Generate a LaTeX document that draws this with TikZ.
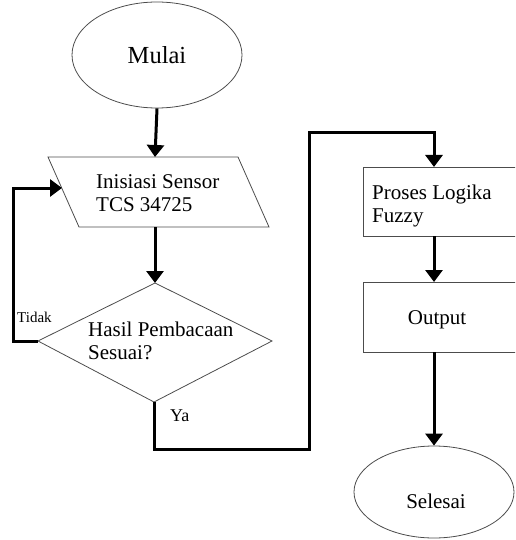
\documentclass[tikz,border=0pt]{standalone}
\usepackage{fontspec}
\setmainfont{Liberation Serif}
\usetikzlibrary{arrows.meta,shapes.geometric}
\begin{document}
\begin{tikzpicture}[x=1pt,y=-1pt,
  shapeline/.style={draw=black!70, line width=0.8pt},
  flow/.style={line width=3pt, -{Triangle[width=17pt,length=12pt]}},
  txt/.style={inner sep=0pt, anchor=base west, align=left, font=\fontsize{21}{23}\selectfont},
]
\useasboundingbox (0,0) rectangle (515,540);
\clip (0,0) rectangle (515,540);
% shapes
\node[ellipse, shapeline, minimum width=170pt, minimum height=106pt, inner sep=0pt] (mulai) at (157,55) {};
\coordinate (pTL) at (48,157);
\coordinate (pTR) at (238,157);
\coordinate (pBR) at (269,227);
\coordinate (pBL) at (79,227);
\draw[shapeline] (pTL) -- (pTR) -- (pBR) -- (pBL) -- cycle;
\coordinate (pTop) at (155,157);
\coordinate (pBot) at (155,227);
\coordinate (pIn) at (62,188);
\coordinate (dL) at (38,341);
\coordinate (dT) at (155,283);
\coordinate (dR) at (272,341);
\coordinate (dB) at (154,402);
\draw[shapeline] (dL) -- (dT) -- (dR) -- (dB) -- cycle;
\node[rectangle, shapeline, minimum width=177pt, minimum height=69pt, inner sep=0pt, anchor=north west] (proses) at (363,167) {};
\node[rectangle, shapeline, minimum width=177pt, minimum height=70pt, inner sep=0pt, anchor=north west] (output) at (363,282) {};
\node[ellipse, shapeline, minimum width=160pt, minimum height=92pt, inner sep=0pt] (selesai) at (434,492) {};
\coordinate (prIn) at (434,167);
\coordinate (prOut) at (434,236);
\coordinate (ouIn) at (434,282);
\coordinate (ouOut) at (434,352);
% texts
\node[txt, font=\fontsize{24.5}{28}\selectfont, anchor=base] (tmulai) at (157,64) {Mulai};
\node[txt] (tinit) at (96,211) {Inisiasi Sensor\\TCS 34725};
\node[txt] (thasil) at (88,359) {Hasil Pembacaan\\Sesuai?};
\node[txt] (tproses) at (372,222) {Proses Logika\\Fuzzy};
\node[txt, anchor=base] (toutput) at (437,324) {Output};
\node[txt, anchor=base] (tselesai) at (436,508) {Selesai};
\node[txt, font=\fontsize{15}{18}\selectfont] (ttidak) at (17,322) {Tidak};
\node[txt, font=\fontsize{18}{21}\selectfont] (tya) at (170,421) {Ya};
% connectors
\draw[flow] (mulai.south) -- (pTop);
\draw[flow] (pBot) -- (dT);
\draw[flow] (dL) -- (13,341) -- (13,188) -- (pIn);
\draw[flow] (dB) -- (154,449) -- (309,449) -- (309,133) -- (434,133) -- (prIn);
\draw[flow] (prOut) -- (ouIn);
\draw[flow] (ouOut) -- (selesai.north);
\end{tikzpicture}
\end{document}
